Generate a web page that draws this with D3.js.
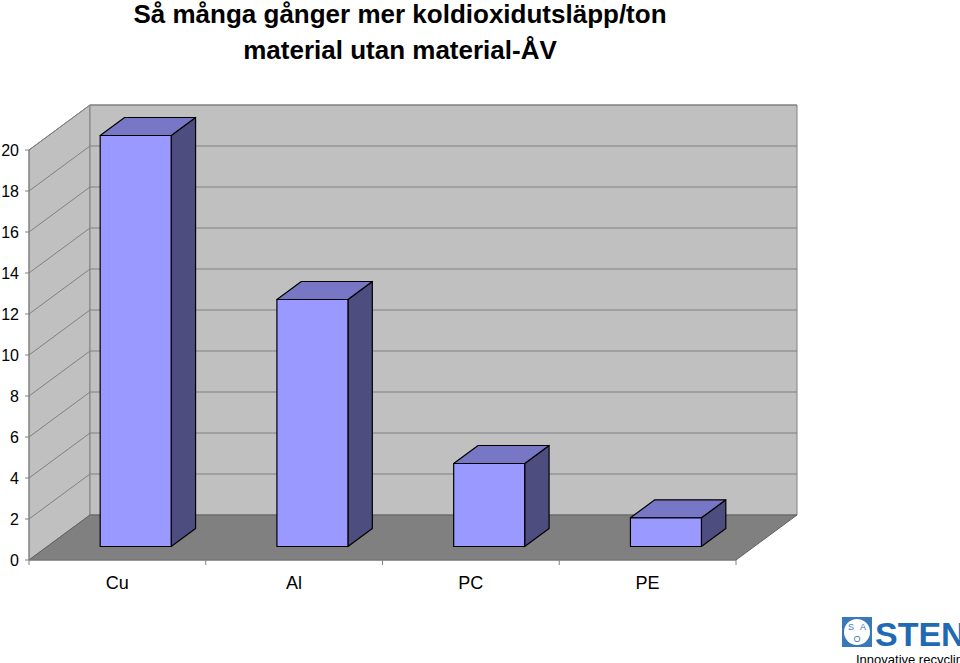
<!DOCTYPE html>
<html><head><meta charset="utf-8">
<script src="https://cdn.jsdelivr.net/npm/d3@7"></script>
<style>body{margin:0;background:#fff;overflow:hidden}svg{font-family:"Liberation Sans",Arial,sans-serif}</style>
</head><body>
<script>
const categories = ["Cu", "Al", "PC", "PE"];
const values = [20.05, 12.05, 4.05, 1.4];
const yTicks = [0, 2, 4, 6, 8, 10, 12, 14, 16, 18, 20];

const W = 960, H = 663;
const svg = d3.select("body").append("svg").attr("width", W).attr("height", H);

const x = d3.scaleBand().domain(categories).range([29, 736]);
const y = d3.scaleLinear().domain([0, 20]).range([560, 150]);
const DX = 61, DY = -45;
const P = (px, v, z) => [px + z * DX, y(v) + z * DY];
const poly = pts => pts.map(p => p.join(",")).join(" ");
const x0 = x.range()[0], x1 = x.range()[1];

// walls
svg.append("polygon").attr("points", poly([P(x0,0,0),P(x0,20,0),P(x0,20,1),P(x0,0,1)]))
  .attr("fill", "#c0c0c0").attr("stroke", "#808080");
svg.append("polygon").attr("points", poly([P(x0,0,1),P(x0,20,1),P(x1,20,1),P(x1,0,1)]))
  .attr("fill", "#c0c0c0").attr("stroke", "#808080");
svg.append("polygon").attr("points", poly([P(x0,0,0),P(x0,0,1),P(x1,0,1),P(x1,0,0)]))
  .attr("fill", "#808080").attr("stroke", "#606060");

// gridlines
yTicks.filter(t => t > 0).forEach(t => {
  svg.append("polyline").attr("points", poly([P(x0,t,0),P(x0,t,1),P(x1,t,1)]))
    .attr("fill", "none").attr("stroke", "#808080").attr("stroke-width", 1);
});

// axes
svg.append("line").attr("x1", x0).attr("x2", x0).attr("y1", y(0)).attr("y2", y(20)).attr("stroke", "#808080");
svg.append("line").attr("x1", x0).attr("x2", x1).attr("y1", y(0)).attr("y2", y(0)).attr("stroke", "#808080");
yTicks.forEach(t => {
  svg.append("line").attr("x1", x0 - 4).attr("x2", x0).attr("y1", y(t)).attr("y2", y(t)).attr("stroke", "#808080");
  svg.append("text").attr("x", 19).attr("y", y(t) + 6).attr("text-anchor", "end")
    .attr("font-size", 16).text(t);
});
x.domain().concat([null]).forEach(c => {
  const px = c ? x(c) : x1;
  svg.append("line").attr("x1", px).attr("x2", px).attr("y1", y(0)).attr("y2", y(0) + 5).attr("stroke", "#808080");
});
categories.forEach(c => {
  svg.append("text").attr("x", x(c) + x.bandwidth() / 2).attr("y", 589).attr("text-anchor", "middle")
    .attr("font-size", 18).text(c);
});

// bars
const zf = 0.3, zb = 0.7, bw = 71;
categories.forEach((c, i) => {
  const v = values[i];
  const bx = x(c) + x.bandwidth() / 2 - bw / 2;
  const g = svg.append("g").attr("stroke", "#000").attr("stroke-width", 1.2).attr("stroke-linejoin", "round");
  g.append("polygon").attr("points", poly([P(bx+bw,0,zf),P(bx+bw,v,zf),P(bx+bw,v,zb),P(bx+bw,0,zb)])).attr("fill", "#4d4d80");
  g.append("polygon").attr("points", poly([P(bx,v,zf),P(bx,v,zb),P(bx+bw,v,zb),P(bx+bw,v,zf)])).attr("fill", "#7777c6");
  g.append("polygon").attr("points", poly([P(bx,0,zf),P(bx,v,zf),P(bx+bw,v,zf),P(bx+bw,0,zf)])).attr("fill", "#9999ff");
});

// title
svg.append("text").attr("x", 400).attr("y", 23).attr("text-anchor", "middle")
  .attr("font-size", 26).attr("font-weight", "bold").text("Så många gånger mer koldioxidutsläpp/ton");
svg.append("text").attr("x", 400).attr("y", 59).attr("text-anchor", "middle")
  .attr("font-size", 26).attr("font-weight", "bold").text("material utan material-ÅV");

// logo
const lg = svg.append("g");
lg.append("rect").attr("x", 842).attr("y", 617).attr("width", 30).attr("height", 30).attr("fill", "#3b78b8");
lg.append("circle").attr("cx", 857).attr("cy", 632).attr("r", 13).attr("fill", "#fff");
[["S",851,630],["A",863,630],["O",857,642]].forEach(([t,a,b]) =>
  lg.append("text").attr("x", a).attr("y", b).attr("font-size", 9).attr("text-anchor", "middle").attr("fill", "#3b78b8").text(t));
lg.append("text").attr("x", 875).attr("y", 646).attr("font-size", 34).attr("font-weight", "bold")
  .attr("fill", "#1f6ab3").text("STEN");
lg.append("text").attr("x", 856).attr("y", 664).attr("font-size", 13).attr("fill", "#000").text("Innovative recycling");
</script>
</body></html>
